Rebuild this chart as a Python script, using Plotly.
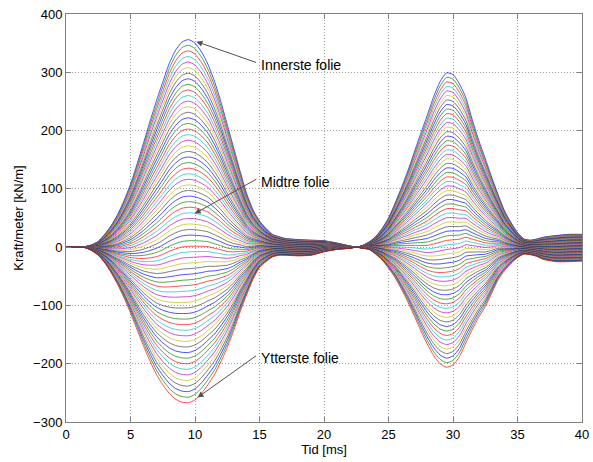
import numpy as np
import plotly.graph_objects as go

# Time axis [ms]
tid = [0, 1, 1.5, 2, 2.5, 3, 3.5, 4, 4.5, 5, 5.5, 6, 6.5, 7, 7.5, 8, 8.5, 9, 9.5, 10,
       10.5, 11, 11.5, 12, 12.5, 13, 13.5, 14, 14.5, 15, 15.5, 16, 16.5, 17, 18, 19, 20,
       21, 22, 22.5, 23, 23.5, 24, 24.5, 25, 25.5, 26, 26.5, 27, 27.5, 28, 28.5, 29,
       29.5, 30, 30.5, 31, 31.5, 32, 32.5, 33, 33.5, 34, 34.5, 35, 35.5, 36, 36.5, 37,
       38, 39, 40]

# Force per meter on the innermost foil [kN/m]
innerste = [0, 0, 1, 4, 10, 22, 37, 56, 80, 108, 142, 178, 215, 250, 283, 315, 338, 352, 356, 350,
            335, 314, 285, 250, 210, 170, 130, 92, 64, 45, 32, 22, 18, 15, 13, 12, 11,
            7, 2, 0, 3, 9, 18, 32, 50, 75, 102, 131, 163, 195, 226, 258, 284,
            299, 296, 280, 256, 218, 183, 152, 120, 90, 62, 42, 25, 14, 12, 14, 17,
            20, 22, 22]

# Force per meter on the outermost foil [kN/m]
ytterste = [0, 0, -1, -6, -14, -27, -44, -64, -87, -113, -141, -169, -195, -218, -236, -251, -261, -266, -267, -262,
            -251, -236, -219, -197, -172, -143, -111, -82, -55, -35, -25, -17, -14, -14, -15, -14, -8,
            -4, -2, 0, -2, -4, -12, -22, -36, -52, -72, -94, -118, -143, -166, -186, -200,
            -206, -202, -188, -164, -141, -120, -102, -79, -56, -40, -28, -18, -12, -13, -16, -21,
            -25, -25, -24]

# Number of foils through the winding, innermost to outermost
antall_folier = 66
folie_posisjon = np.linspace(0.0, 1.0, antall_folier)

# MATLAB default line colour order (b, g, r, c, m, y, k)
farger = ["rgb(0,0,255)", "rgb(0,128,0)", "rgb(255,0,0)", "rgb(0,191,191)",
          "rgb(191,0,191)", "rgb(191,191,0)", "rgb(64,64,64)"]

inn = np.array(innerste, dtype=float)
ytt = np.array(ytterste, dtype=float)

fig = go.Figure()
for k, p in enumerate(folie_posisjon):
    kraft = inn * (1.0 - p) + ytt * p
    fig.add_trace(go.Scatter(
        x=tid, y=kraft, mode="lines",
        line=dict(color=farger[k % len(farger)], width=0.7, shape="spline", smoothing=0.6),
        showlegend=False, hoverinfo="skip",
    ))

tekstfont = dict(family="Liberation Sans, Arial, sans-serif", size=14, color="black")

# Labels with arrows pointing to the innermost, middle and outermost foil
merker = [
    # (arrow tip x, tip y, tail x, tail y, text x, text y, text)
    (10.11, 352.6, 14.85, 316.0, 15.0, 313.0, "Innerste folie"),
    (9.98, 57.6, 14.87, 118.0, 15.0, 112.0, "Midtre folie"),
    (10.2, -258.0, 14.85, -184.6, 15.0, -189.5, "Ytterste folie"),
]
for tx, ty, ax_, ay_, lx, ly, tekst in merker:
    fig.add_annotation(x=tx, y=ty, ax=ax_, ay=ay_, xref="x", yref="y", axref="x", ayref="y",
                       text="", showarrow=True, arrowhead=2, arrowsize=1.2, arrowwidth=1,
                       arrowcolor="rgb(80,80,80)")
    fig.add_annotation(x=lx, y=ly, xref="x", yref="y", text=tekst, showarrow=False,
                       xanchor="left", yanchor="middle", borderpad=0, font=tekstfont)

aksefont = dict(family="Liberation Sans, Arial, sans-serif", size=13, color="black")

fig.update_xaxes(
    range=[0, 40], tickvals=[0, 5, 10, 15, 20, 25, 30, 35, 40], automargin=False,
    showline=True, linecolor="rgb(128,128,128)", linewidth=1, mirror="ticks",
    ticks="inside", ticklen=5, tickcolor="rgb(128,128,128)",
    showgrid=True, gridcolor="rgb(160,160,160)", griddash="1px,2px", gridwidth=1,
    zeroline=False, tickfont=aksefont,
    title=dict(text="Tid [ms]", font=aksefont, standoff=4),
)
fig.update_yaxes(
    range=[-300, 400], tickvals=[-300, -200, -100, 0, 100, 200, 300, 400], automargin=False,
    showline=True, linecolor="rgb(128,128,128)", linewidth=1, mirror="ticks",
    ticks="inside", ticklen=5, tickcolor="rgb(128,128,128)",
    showgrid=True, gridcolor="rgb(160,160,160)", griddash="1px,2px", gridwidth=1,
    zeroline=False, tickfont=aksefont,
    title=dict(text="Kraft/meter [kN/m]", font=aksefont, standoff=6),
)

fig.update_layout(
    width=593, height=462,
    margin=dict(l=66, r=11, t=14, b=40),
    paper_bgcolor="white", plot_bgcolor="white",
    showlegend=False,
)

fig.write_html("out.html")
